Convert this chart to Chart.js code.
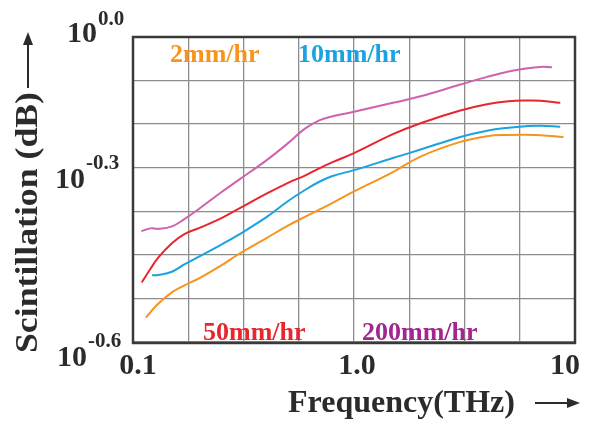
<!DOCTYPE html>
<html>
<head>
    <title>Scintillation vs Frequency</title>
    <script src="https://cdn.jsdelivr.net/npm/chart.js"></script>
    <style>
        body { margin: 0; background: #ffffff; }
        canvas { display: block; }
    </style>
</head>
<body>
    <canvas id="chart" width="593" height="423"></canvas>

    <script>
        // frequenze (THz) e scintillazione (dB), una coppia di array per curva
        const freq2mm = [0.115, 0.12, 0.13, 0.15, 0.17, 0.2, 0.25, 0.3, 0.4, 0.5, 0.6, 0.7, 0.8, 1.0, 1.5, 2, 3, 4, 5, 6, 7, 8.8];
        const scint2mm = [0.2812, 0.2876, 0.2988, 0.3145, 0.3242, 0.3354, 0.3548, 0.3737, 0.4017, 0.4250, 0.4427, 0.4579, 0.4715, 0.4967, 0.5423, 0.5817, 0.6210, 0.6381, 0.6416, 0.6424, 0.6410, 0.6358];

        const freq10mm = [0.123, 0.13, 0.15, 0.17, 0.2, 0.25, 0.3, 0.4, 0.5, 0.6, 0.7, 0.8, 1.0, 1.5, 2, 3, 4, 5, 6, 7, 8.5];
        const scint10mm = [0.3399, 0.3402, 0.3453, 0.3565, 0.3703, 0.3901, 0.4081, 0.4416, 0.4747, 0.5000, 0.5196, 0.5326, 0.5472, 0.5778, 0.6005, 0.6352, 0.6541, 0.6631, 0.6676, 0.6691, 0.6661];

        const freq50mm = [0.11, 0.12, 0.13, 0.15, 0.17, 0.2, 0.25, 0.3, 0.4, 0.5, 0.6, 0.7, 0.8, 1.0, 1.5, 2, 3, 4, 5, 6, 7, 8.5];
        const scint50mm = [0.3300, 0.3500, 0.3679, 0.3927, 0.4091, 0.4211, 0.4396, 0.4589, 0.4911, 0.5160, 0.5338, 0.5522, 0.5673, 0.5909, 0.6439, 0.6767, 0.7160, 0.7371, 0.7472, 0.7500, 0.7494, 0.7422];

        const freq200mm = [0.11, 0.12, 0.13, 0.15, 0.17, 0.2, 0.25, 0.3, 0.4, 0.5, 0.6, 0.7, 0.8, 1.0, 1.5, 2, 3, 4, 5, 6, 7, 7.8];
        const scint200mm = [0.4155, 0.4202, 0.4193, 0.4241, 0.4377, 0.4599, 0.4944, 0.5230, 0.5712, 0.6169, 0.6601, 0.6860, 0.6985, 0.7127, 0.7422, 0.7643, 0.8052, 0.8348, 0.8557, 0.8673, 0.8733, 0.8721];

        const seriesLabels = ['2mm/hr', '10mm/hr', '50mm/hr', '200mm/hr'];
        const lineColors = ['#f7941d', '#1aa3e0', '#e8262d', '#cf62ad'];
        const textColors = ['#f7941d', '#1aa3e0', '#e8262d', '#a1268f'];

        // griglia: 4 linee per decade in x, 7 intervalli uguali in y
        const xGrid = [0.1, 0.1778, 0.3162, 0.5623, 1, 1.778, 3.162, 5.623, 10];
        const yGrid = [0.2512, 0.3059, 0.3727, 0.4540, 0.5530, 0.6738, 0.8209, 1.0];

        const xTickValues = [0.1, 1, 10];
        const xTickLabels = ['0.1', '1.0', '10'];
        const yTickValues = [1.0, 0.5012, 0.2512];
        const yTickExps = ['0.0', '-0.3', '-0.6'];

        function points(xs, ys) {
            return xs.map((x, i) => ({ x: x, y: ys[i] }));
        }

        const allData = [
            points(freq2mm, scint2mm),
            points(freq10mm, scint10mm),
            points(freq50mm, scint50mm),
            points(freq200mm, scint200mm),
        ];

        const serif = '"Liberation Serif", "Times New Roman", serif';

        function arrow(ctx, x1, y1, x2, y2) {
            const a = Math.atan2(y2 - y1, x2 - x1);
            ctx.beginPath();
            ctx.moveTo(x1, y1);
            ctx.lineTo(x2 - 9 * Math.cos(a), y2 - 9 * Math.sin(a));
            ctx.lineWidth = 2;
            ctx.stroke();
            ctx.beginPath();
            ctx.moveTo(x2, y2);
            ctx.lineTo(x2 - 13 * Math.cos(a) + 5 * Math.sin(a), y2 - 13 * Math.sin(a) - 5 * Math.cos(a));
            ctx.lineTo(x2 - 13 * Math.cos(a) - 5 * Math.sin(a), y2 - 13 * Math.sin(a) + 5 * Math.cos(a));
            ctx.closePath();
            ctx.fill();
        }

        // cornice, etichette degli assi e nomi delle curve
        const decorations = {
            id: 'decorations',
            beforeDraw(chart) {
                const ctx = chart.ctx;
                ctx.save();
                ctx.fillStyle = '#ffffff';
                ctx.fillRect(0, 0, chart.width, chart.height);
                ctx.restore();
            },
            afterDraw(chart) {
                const ctx = chart.ctx;
                const area = chart.chartArea;
                const xs = chart.scales.x;
                const ys = chart.scales.y;
                ctx.save();

                ctx.strokeStyle = '#3a3a3a';
                ctx.lineWidth = 2.5;
                ctx.strokeRect(area.left, area.top, area.right - area.left, area.bottom - area.top);

                ctx.fillStyle = '#2b2b2b';
                ctx.strokeStyle = '#2b2b2b';
                ctx.textBaseline = 'alphabetic';

                // x tick labels
                const xOff = [5, 3, -10];
                ctx.font = 'bold 30px ' + serif;
                ctx.textAlign = 'center';
                xTickValues.forEach((v, i) => {
                    ctx.fillText(xTickLabels[i], xs.getPixelForValue(v) + xOff[i], 374);
                });

                // y tick labels 10^exp
                const yRight = [97, 85, 87];
                const yOff = [5, -1, 24];
                const supOff = [-17, -19, -19];
                yTickValues.forEach((v, i) => {
                    const py = ys.getPixelForValue(v) + yOff[i];
                    ctx.font = 'bold 30px ' + serif;
                    ctx.textAlign = 'right';
                    ctx.fillText('10', yRight[i], py);
                    ctx.font = 'bold 21px ' + serif;
                    ctx.textAlign = 'left';
                    ctx.fillText(yTickExps[i], yRight[i] + 1, py + supOff[i]);
                });

                // titolo asse x
                ctx.font = 'bold 32px ' + serif;
                ctx.textAlign = 'left';
                ctx.fillText('Frequency(THz)', 288, 412);
                arrow(ctx, 535, 403, 580, 403);

                // titolo asse y (ruotato)
                ctx.save();
                ctx.translate(37, 353);
                ctx.rotate(-Math.PI / 2);
                ctx.font = 'bold 32px ' + serif;
                const w = ctx.measureText('Scintillation (dB)').width;
                ctx.scale(261 / w, 1);
                ctx.fillText('Scintillation (dB)', 0, 0);
                ctx.restore();
                arrow(ctx, 28, 88, 28, 32);

                // nomi delle curve
                const labelPos = [[170, 62], [298, 62], [203, 340], [362, 340]];
                ctx.font = 'bold 26px ' + serif;
                ctx.textAlign = 'left';
                seriesLabels.forEach((t, i) => {
                    ctx.fillStyle = textColors[i];
                    ctx.fillText(t, labelPos[i][0], labelPos[i][1]);
                });

                ctx.restore();
            }
        };

        const ctx = document.getElementById('chart').getContext('2d');

        new Chart(ctx, {
            type: 'line',
            data: {
                datasets: seriesLabels.map((label, i) => ({
                    label: label,
                    data: allData[i],
                    borderColor: lineColors[i],
                    backgroundColor: lineColors[i],
                    borderWidth: 2,
                    pointRadius: 0,
                    tension: 0.4,
                    borderCapStyle: 'round',
                    borderJoinStyle: 'round',
                    fill: false,
                })),
            },
            options: {
                responsive: false,
                animation: false,
                layout: {
                    padding: { left: 133, right: 18, top: 37, bottom: 80 },
                },
                plugins: {
                    legend: { display: false },
                    tooltip: { enabled: false },
                },
                scales: {
                    x: {
                        type: 'logarithmic',
                        min: 0.1,
                        max: 10,
                        afterBuildTicks: (scale) => {
                            scale.ticks = xGrid.map(v => ({ value: v }));
                        },
                        ticks: { display: false },
                        grid: { color: '#8c8c8c', lineWidth: 1.3, drawTicks: false },
                        border: { display: false },
                    },
                    y: {
                        type: 'logarithmic',
                        min: 0.2512,
                        max: 1.0,
                        afterBuildTicks: (scale) => {
                            scale.ticks = yGrid.map(v => ({ value: v }));
                        },
                        ticks: { display: false },
                        grid: { color: '#8c8c8c', lineWidth: 1.3, drawTicks: false },
                        border: { display: false },
                    },
                },
            },
            plugins: [decorations],
        });
    </script>
</body>
</html>
